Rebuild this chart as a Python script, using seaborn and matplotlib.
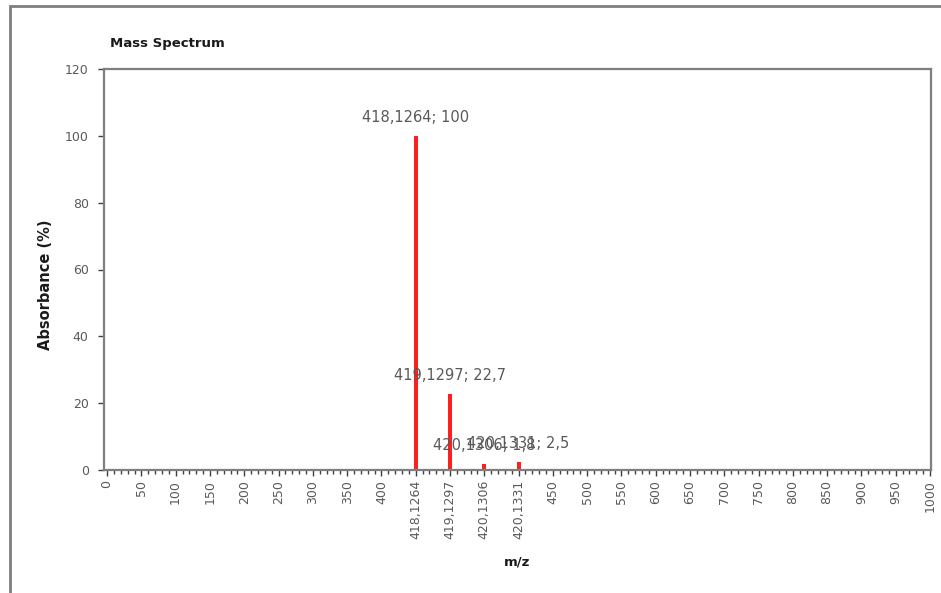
import pandas as pd
import matplotlib.pyplot as plt
import seaborn as sns
from matplotlib.ticker import MultipleLocator
from matplotlib.patches import Rectangle

# Stil
sns.set_style("ticks")
plt.rcParams['font.family'] = ['DejaVu Sans']

# Kategorien der x-Achse (wie im Excel-Diagramm)
axis_labels = ['0', '50', '100', '150', '200', '250', '300', '350', '400',
               '418,1264', '419,1297', '420,1306', '420,1331',
               '450', '500', '550', '600', '650', '700', '750', '800',
               '850', '900', '950', '1000']

# Peaks
peak_mz = ['418,1264', '419,1297', '420,1306', '420,1331']
peak_abs = [100, 22.7, 1.8, 2.5]
peak_text = ['100', '22,7', '1,8', '2,5']

y_ticks = [0, 20, 40, 60, 80, 100, 120]

df = pd.DataFrame({'mz': peak_mz, 'abs': peak_abs})

W, H = 941, 593
fig = plt.figure(figsize=(W / 100, H / 100), dpi=100)
ax = fig.add_axes([104 / W, 1 - 470 / H, 827 / W, 401 / H])

sns.barplot(data=df, x='mz', y='abs', order=axis_labels, color='#ff1f1f',
            saturation=1, width=0.115, linewidth=0, ax=ax)

# Datenbeschriftungen
for m, v, t in zip(peak_mz, peak_abs, peak_text):
    xpos = axis_labels.index(m)
    ax.annotate(f'{m}; {t}', (xpos, v), xytext=(0, 8), textcoords='offset points',
                ha='center', va='bottom', fontsize=10.5, color='#595959')

ax.set_ylim(0, 120)
ax.set_yticks(y_ticks)
ax.set_xlim(-0.09, 24.03)
ax.xaxis.set_minor_locator(MultipleLocator(0.2))
ax.set_xlabel('')
ax.set_ylabel('')

for lbl in ax.get_xticklabels():
    lbl.set_rotation(90)
ax.tick_params(axis='x', which='major', direction='out', length=4, width=1,
               color='#404040', labelsize=9, labelcolor='#595959', pad=3)
ax.tick_params(axis='x', which='minor', direction='out', length=3, width=1,
               color='#404040')
ax.tick_params(axis='y', which='major', direction='out', length=4, width=1,
               color='#404040', labelsize=9, labelcolor='#595959', pad=7)

for s in ax.spines.values():
    s.set_visible(True)
    s.set_color('#7f7f7f')
    s.set_linewidth(1.6)

# Titel und Achsentitel
fig.text(110 / W, 1 - 44 / H, 'Mass Spectrum', fontsize=9.5, fontweight='bold',
         ha='left', va='center', color='#1a1a1a')
fig.text(45 / W, 1 - 285 / H, 'Absorbance (%)', fontsize=10.5, fontweight='bold',
         rotation=90, ha='center', va='center', color='#1a1a1a')
fig.text(517 / W, 1 - 562 / H, 'm/z', fontsize=9.5, fontweight='bold',
         ha='center', va='center', color='#1a1a1a')

# Rahmen des Diagrammbereichs
fig.add_artist(Rectangle((10 / W, -0.05), 1.0, 1 - 6 / H + 0.05, fill=False,
                         edgecolor='#7f7f7f', linewidth=2, transform=fig.transFigure))

fig.savefig('out.png', dpi=100)
